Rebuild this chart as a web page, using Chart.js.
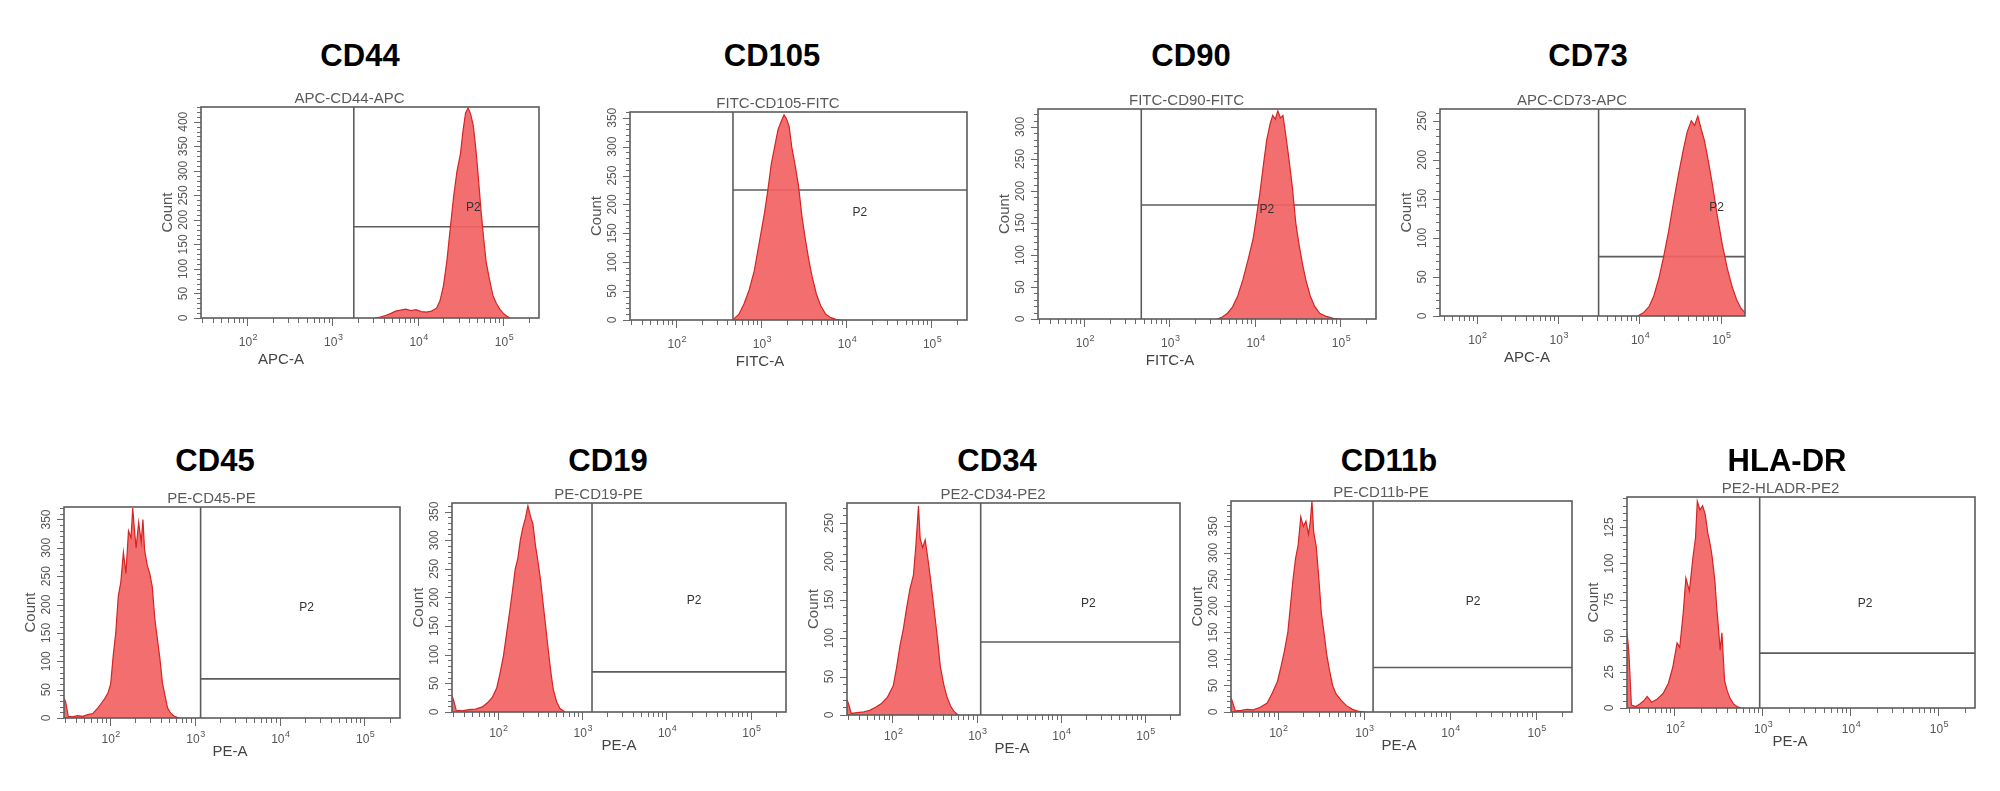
<!DOCTYPE html>
<html>
<head>
<meta charset="utf-8">
<title>Flow cytometry immunophenotype</title>
<script src="https://cdn.jsdelivr.net/npm/chart.js@4.4.1/dist/chart.umd.min.js"></script>
<style>
  html, body { margin: 0; padding: 0; background: #fff; }
  body { width: 2000px; height: 791px; position: relative; overflow: hidden; }
  canvas { position: absolute; }
  .marker {
    position: absolute;
    font: bold 31px "Liberation Sans", Arial, sans-serif;
    line-height: 1;
    color: #000;
    transform: translate(-50%, -50%);
    white-space: nowrap;
  }
</style>
</head>
<body>
<script>
// x axis is in log10 units of fluorescence (10^1.46 ~ 29 up to 262144)
const xMinExp = 1.46;
const xMaxExp = 5.42;
const decades = [2, 3, 4, 5]; // labelled as 10², 10³, 10⁴, 10⁵

// histograms: bin position (log10 intensity) and event count
const cd44Exp   = [3.50, 3.56, 3.62, 3.68, 3.74, 3.80, 3.86, 3.92, 3.98, 4.04, 4.10, 4.16, 4.22, 4.26, 4.30, 4.34, 4.38, 4.42, 4.46, 4.50, 4.53, 4.56, 4.59, 4.62, 4.65, 4.68, 4.71, 4.74, 4.77, 4.80, 4.84, 4.88, 4.92, 4.96, 5.00, 5.04, 5.08];
const cd44Count = [0, 2, 5, 9, 14, 16, 18, 15, 17, 13, 12, 14, 20, 35, 65, 115, 182, 248, 300, 335, 382, 418, 428, 415, 392, 345, 285, 220, 165, 115, 78, 46, 30, 18, 10, 4, 0];

const cd105Exp   = [2.68, 2.74, 2.80, 2.86, 2.92, 2.98, 3.04, 3.08, 3.12, 3.16, 3.20, 3.24, 3.27, 3.30, 3.33, 3.36, 3.40, 3.44, 3.48, 3.52, 3.56, 3.60, 3.65, 3.70, 3.76, 3.82, 3.88, 3.94];
const cd105Count = [2, 10, 28, 52, 85, 135, 185, 225, 270, 300, 330, 345, 355, 348, 335, 300, 268, 232, 180, 140, 105, 75, 45, 25, 10, 4, 1, 0];

const cd90Exp   = [3.56, 3.62, 3.68, 3.74, 3.80, 3.86, 3.92, 3.98, 4.02, 4.06, 4.10, 4.14, 4.18, 4.21, 4.24, 4.27, 4.30, 4.33, 4.36, 4.40, 4.44, 4.48, 4.52, 4.56, 4.60, 4.65, 4.70, 4.76, 4.84, 4.92, 5.00];
const cd90Count = [0, 3, 9, 19, 36, 61, 92, 125, 160, 197, 240, 280, 305, 318, 312, 325, 314, 318, 290, 250, 206, 150, 115, 85, 60, 36, 20, 9, 4, 1, 0];

const cd73Exp   = [3.98, 4.05, 4.12, 4.18, 4.24, 4.30, 4.36, 4.42, 4.48, 4.54, 4.59, 4.64, 4.68, 4.72, 4.76, 4.80, 4.85, 4.90, 4.96, 5.02, 5.08, 5.14, 5.20, 5.25, 5.30];
const cd73Count = [0, 4, 12, 26, 48, 76, 108, 145, 180, 212, 236, 250, 244, 256, 240, 225, 198, 168, 128, 92, 62, 38, 20, 10, 4];

const cd45Exp   = [1.46, 1.48, 1.51, 1.56, 1.62, 1.68, 1.74, 1.80, 1.86, 1.90, 1.94, 1.98, 2.01, 2.04, 2.07, 2.10, 2.13, 2.16, 2.19, 2.22, 2.25, 2.27, 2.29, 2.31, 2.34, 2.37, 2.39, 2.41, 2.44, 2.47, 2.50, 2.53, 2.56, 2.59, 2.62, 2.65, 2.68, 2.72, 2.76, 2.82];
const cd45Count = [35, 28, 3, 2, 4, 3, 6, 8, 18, 26, 34, 45, 60, 110, 150, 215, 240, 292, 255, 330, 318, 370, 332, 300, 345, 310, 350, 296, 270, 255, 232, 175, 140, 105, 62, 40, 18, 8, 3, 0];

const cd19Exp   = [1.46, 1.48, 1.51, 1.58, 1.66, 1.74, 1.82, 1.88, 1.94, 1.99, 2.03, 2.07, 2.11, 2.15, 2.18, 2.21, 2.24, 2.27, 2.30, 2.33, 2.36, 2.39, 2.42, 2.45, 2.48, 2.51, 2.54, 2.57, 2.60, 2.63, 2.66, 2.70, 2.74, 2.80];
const cd19Count = [28, 20, 3, 2, 4, 5, 9, 16, 26, 42, 68, 98, 140, 182, 215, 250, 268, 300, 322, 338, 360, 342, 328, 290, 262, 230, 190, 150, 110, 72, 40, 18, 6, 0];

const cd34Exp   = [1.46, 1.48, 1.51, 1.58, 1.66, 1.73, 1.80, 1.87, 1.94, 2.01, 2.05, 2.09, 2.13, 2.17, 2.21, 2.25, 2.28, 2.31, 2.33, 2.36, 2.39, 2.42, 2.45, 2.48, 2.51, 2.54, 2.57, 2.61, 2.65, 2.69, 2.73, 2.78];
const cd34Count = [20, 14, 2, 3, 4, 6, 10, 15, 23, 38, 62, 90, 112, 140, 165, 182, 222, 272, 230, 218, 228, 205, 180, 152, 124, 95, 63, 40, 23, 12, 5, 0];

const cd11bExp   = [1.46, 1.48, 1.51, 1.58, 1.65, 1.72, 1.80, 1.88, 1.94, 2.00, 2.04, 2.08, 2.12, 2.15, 2.18, 2.21, 2.24, 2.27, 2.30, 2.33, 2.36, 2.38, 2.40, 2.42, 2.45, 2.48, 2.51, 2.54, 2.57, 2.60, 2.64, 2.68, 2.74, 2.80, 2.87, 2.95, 3.02];
const cd11bCount = [27, 18, 2, 3, 5, 4, 9, 17, 36, 58, 85, 115, 150, 200, 250, 290, 315, 368, 350, 360, 335, 358, 398, 340, 312, 252, 185, 150, 110, 82, 50, 34, 22, 12, 5, 1, 0];

const hladrExp   = [1.46, 1.48, 1.51, 1.56, 1.61, 1.65, 1.69, 1.74, 1.80, 1.87, 1.93, 1.98, 2.03, 2.06, 2.10, 2.13, 2.17, 2.21, 2.24, 2.26, 2.29, 2.32, 2.35, 2.38, 2.41, 2.43, 2.46, 2.48, 2.50, 2.52, 2.54, 2.57, 2.60, 2.63, 2.67, 2.71, 2.76];
const hladrCount = [52, 40, 2, 1, 3, 5, 8, 4, 6, 10, 17, 28, 45, 42, 66, 90, 81, 104, 118, 143, 137, 140, 134, 121, 112, 104, 88, 70, 56, 40, 52, 19, 12, 7, 3, 1, 0];

// count axis labels
const ticks400 = [0, 50, 100, 150, 200, 250, 300, 350, 400];
const ticks350 = [0, 50, 100, 150, 200, 250, 300, 350];
const ticks300 = [0, 50, 100, 150, 200, 250, 300];
const ticks250 = [0, 50, 100, 150, 200, 250];
const ticks125 = [0, 25, 50, 75, 100, 125];

// P2 gate: vertical marker (log10 units) and horizontal marker (count), P2 label position
const markers   = ['CD44', 'CD105', 'CD90', 'CD73', 'CD45', 'CD19', 'CD34', 'CD11b', 'HLA-DR'];
const gateExp   = [3.25, 2.67, 2.67, 3.50, 3.07, 3.12, 3.05, 3.11, 2.97];
const gateCount = [186, 225, 178, 76, 69, 70, 95, 84, 38];
const p2Exp     = [4.65, 4.16, 4.14, 4.95, 4.32, 4.33, 4.33, 4.27, 4.17];
const p2Count   = [224, 185, 170, 139, 194, 194, 145, 209, 72];

const FONT = '"Liberation Sans", Arial, Helvetica, sans-serif';

const rows = [
  { markerY: 54.5, labelDy: 25, titleDy: 42 },
  { markerY: 460, labelDy: 22, titleDy: 34 }
];

// layout of each FACS plot on the page: plot box [left, top, right, bottom]
const panels = [
  { title: 'APC-CD44-APC',    axis: 'APC-A',  row: 0, markerX: 360,  axisX: 281,  box: [201, 107, 539, 318],   xMin: xMinExp, xMax: xMaxExp, yMax: 430, yMajor: 50, yMinor: 10, ticks: ticks400, exp: cd44Exp,  count: cd44Count },
  { title: 'FITC-CD105-FITC', axis: 'FITC-A', row: 0, markerX: 772,  axisX: 760,  box: [630, 112, 967, 320],   xMin: xMinExp, xMax: xMaxExp, yMax: 360, yMajor: 50, yMinor: 10, ticks: ticks350, exp: cd105Exp, count: cd105Count },
  { title: 'FITC-CD90-FITC',  axis: 'FITC-A', row: 0, markerX: 1191, axisX: 1170, box: [1038, 109, 1376, 319], xMin: xMinExp, xMax: xMaxExp, yMax: 328, yMajor: 50, yMinor: 10, ticks: ticks300, exp: cd90Exp,  count: cd90Count },
  { title: 'APC-CD73-APC',    axis: 'APC-A',  row: 0, markerX: 1588, axisX: 1527, box: [1440, 109, 1745, 316], xMin: 1.55,    xMax: 5.30,    yMax: 265, yMajor: 50, yMinor: 10, ticks: ticks250, exp: cd73Exp,  count: cd73Count },
  { title: 'PE-CD45-PE',      axis: 'PE-A',   row: 1, markerX: 215,  axisX: 230,  box: [64, 507, 400, 718],    xMin: xMinExp, xMax: xMaxExp, yMax: 372, yMajor: 50, yMinor: 10, ticks: ticks350, exp: cd45Exp,  count: cd45Count },
  { title: 'PE-CD19-PE',      axis: 'PE-A',   row: 1, markerX: 608,  axisX: 619,  box: [452, 503, 786, 712],   xMin: xMinExp, xMax: xMaxExp, yMax: 365, yMajor: 50, yMinor: 10, ticks: ticks350, exp: cd19Exp,  count: cd19Count },
  { title: 'PE2-CD34-PE2',    axis: 'PE-A',   row: 1, markerX: 997,  axisX: 1012, box: [847, 503, 1180, 715],  xMin: xMinExp, xMax: xMaxExp, yMax: 276, yMajor: 50, yMinor: 10, ticks: ticks250, exp: cd34Exp,  count: cd34Count },
  { title: 'PE-CD11b-PE',     axis: 'PE-A',   row: 1, markerX: 1389, axisX: 1399, box: [1231, 501, 1572, 712], xMin: xMinExp, xMax: xMaxExp, yMax: 398, yMajor: 50, yMinor: 10, ticks: ticks350, exp: cd11bExp, count: cd11bCount },
  { title: 'PE2-HLADR-PE2',   axis: 'PE-A',   row: 1, markerX: 1787, axisX: 1790, box: [1627, 497, 1975, 708], xMin: xMinExp, xMax: xMaxExp, yMax: 146, yMajor: 25, yMinor: 5,  ticks: ticks125, exp: hladrExp, count: hladrCount }
];

const Y_AXIS_W = 41;  // room for "Count" and rotated tick labels
const X_AXIS_H = 54;  // room for 10^n labels and axis name
const TITLE_H = 16;
const PAD_TOP = 4;
const PAD_RIGHT = 2;

// draws the FACSDiva-like frame, ticks, rotated labels, P2 and axis name
function facsDecor(p, i, canvasLeft) {
  const row = rows[p.row];
  return {
    id: 'facsDecor',
    afterDraw(chart) {
      const { ctx, chartArea: a } = chart;
      const xs = chart.scales.x, ys = chart.scales.y;
      ctx.save();

      // minor / major ticks
      ctx.strokeStyle = '#6a6a6a';
      ctx.lineWidth = 1;
      ctx.beginPath();
      for (let d = 1; d <= 5; d++) {
        for (let m = 1; m <= 9; m++) {
          const e = d + Math.log10(m);
          if (e < p.xMin || e > p.xMax) continue;
          const px = Math.round(xs.getPixelForValue(e)) + 0.5;
          ctx.moveTo(px, a.bottom);
          ctx.lineTo(px, a.bottom + (m === 1 ? 8 : 5));
        }
      }
      for (let v = 0; v <= p.yMax; v += p.yMinor) {
        const py = Math.round(ys.getPixelForValue(v)) + 0.5;
        const major = v % p.yMajor === 0;
        ctx.moveTo(a.left, py);
        ctx.lineTo(a.left - (major ? 7 : 4), py);
      }
      ctx.stroke();

      // plot frame
      ctx.strokeStyle = '#5c5c5c';
      ctx.lineWidth = 1.6;
      ctx.strokeRect(a.left, a.top, a.right - a.left, a.bottom - a.top);

      // x labels 10^n
      ctx.fillStyle = '#555';
      ctx.textBaseline = 'middle';
      decades.forEach(d => {
        const px = xs.getPixelForValue(d);
        const py = a.bottom + row.labelDy;
        ctx.font = '12px ' + FONT;
        ctx.textAlign = 'right';
        ctx.fillText('10', px + 5, py);
        ctx.font = '9px ' + FONT;
        ctx.textAlign = 'left';
        ctx.fillText(String(d), px + 5.5, py - 5);
      });

      // y labels, rotated like the cytometer export
      ctx.font = '12px ' + FONT;
      ctx.textAlign = 'center';
      p.ticks.forEach(v => {
        const py = ys.getPixelForValue(v);
        ctx.save();
        ctx.translate(a.left - 17, py);
        ctx.rotate(-Math.PI / 2);
        ctx.fillText(String(v), 0, 0);
        ctx.restore();
      });

      // gate label
      ctx.fillStyle = '#333';
      ctx.font = '12px ' + FONT;
      ctx.fillText('P2', xs.getPixelForValue(p2Exp[i]), ys.getPixelForValue(p2Count[i]));

      // axis name
      ctx.fillStyle = '#444';
      ctx.font = '15px ' + FONT;
      ctx.fillText(p.axis, p.axisX - canvasLeft, a.bottom + row.titleDy);

      ctx.restore();
    }
  };
}

panels.forEach((p, i) => {
  const [L, T, R, B] = p.box;
  const left = L - Y_AXIS_W;
  const top = T - TITLE_H - PAD_TOP;
  const width = R - left + PAD_RIGHT;
  const height = B - top + X_AXIS_H;

  const cv = document.createElement('canvas');
  cv.width = width;
  cv.height = height;
  cv.style.left = left + 'px';
  cv.style.top = top + 'px';
  cv.style.width = width + 'px';
  cv.style.height = height + 'px';
  document.body.appendChild(cv);

  const mk = document.createElement('div');
  mk.className = 'marker';
  mk.textContent = markers[i];
  mk.style.left = p.markerX + 'px';
  mk.style.top = rows[p.row].markerY + 'px';
  document.body.appendChild(mk);

  const gx = gateExp[i], gy = gateCount[i];

  new Chart(cv, {
    type: 'line',
    data: {
      datasets: [
        {
          data: p.exp.map((e, k) => ({ x: e, y: p.count[k] })),
          borderColor: '#d62424',
          borderWidth: 1.2,
          backgroundColor: 'rgba(242, 98, 98, 0.92)',
          fill: 'origin',
          pointRadius: 0,
          tension: 0
        },
        {
          data: [{ x: gx, y: 0 }, { x: gx, y: p.yMax }],
          borderColor: '#5c5c5c',
          borderWidth: 1.6,
          pointRadius: 0,
          fill: false
        },
        {
          data: [{ x: gx, y: gy }, { x: p.xMax, y: gy }],
          borderColor: '#5c5c5c',
          borderWidth: 1.6,
          pointRadius: 0,
          fill: false
        }
      ]
    },
    options: {
      responsive: false,
      animation: false,
      events: [],
      layout: { padding: { left: 0, right: PAD_RIGHT, top: PAD_TOP, bottom: 0 } },
      plugins: {
        legend: { display: false },
        tooltip: { enabled: false },
        title: {
          display: true,
          text: p.title,
          color: '#5a5a5a',
          font: { family: FONT, size: 15, weight: 'normal', lineHeight: '16px' },
          padding: 0
        }
      },
      scales: {
        x: {
          type: 'linear',
          min: p.xMin,
          max: p.xMax,
          grid: { display: false },
          border: { display: false },
          ticks: { display: false },
          afterFit: s => { s.height = X_AXIS_H; }
        },
        y: {
          min: 0,
          max: p.yMax,
          grid: { display: false },
          border: { display: false },
          ticks: { display: false },
          title: {
            display: true,
            text: 'Count',
            color: '#555',
            font: { family: FONT, size: 15, lineHeight: '16px' },
            padding: 0
          },
          afterFit: s => { s.width = Y_AXIS_W; }
        }
      }
    },
    plugins: [facsDecor(p, i, left)]
  });
});
</script>
</body>
</html>
